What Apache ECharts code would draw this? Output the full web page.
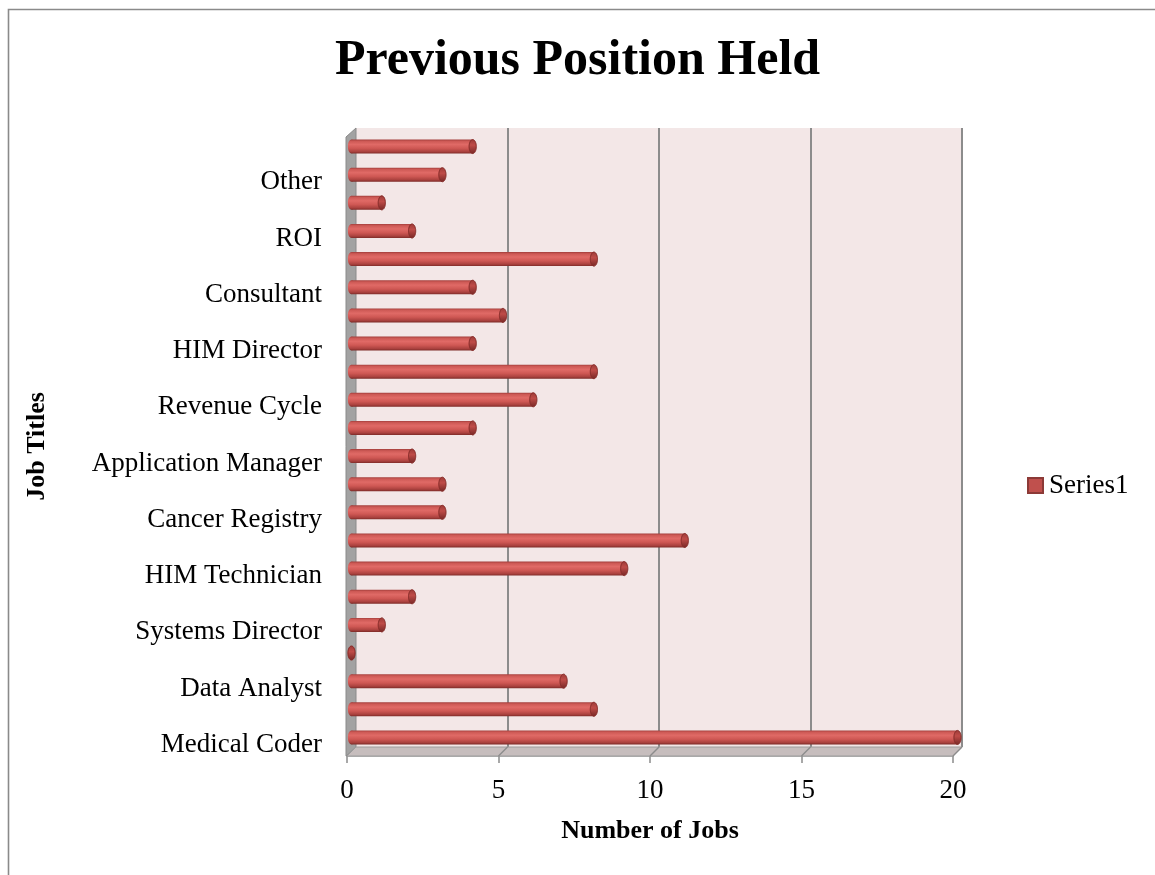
<!DOCTYPE html>
<html>
<head>
<meta charset="utf-8">
<title>Previous Position Held</title>
<script src="https://cdn.jsdelivr.net/npm/echarts@6/dist/echarts.min.js"></script>
<style>
  html, body { margin: 0; padding: 0; background: #ffffff; }
  #chart { width: 1155px; height: 875px; }
</style>
</head>
<body>
<div id="chart"></div>
<script>
// Job titles, bottom to top; every other category carries a visible label
const categories = [
  'Medical Coder', '', 'Data Analyst', '', 'Systems Director', '',
  'HIM Technician', '', 'Cancer Registry', '', 'Application Manager', '',
  'Revenue Cycle', '', 'HIM Director', '', 'Consultant', '',
  'ROI', '', 'Other', ''
];
// Number of jobs for each category (same order as above)
const jobCounts = [20, 8, 7, 0, 1, 2, 9, 11, 3, 3, 2, 4, 6, 8, 4, 5, 4, 8, 2, 1, 3, 4];
const seriesName = 'Series1';
const xTicks = { min: 0, max: 20, interval: 5 };

const W = 1155, H = 875;
const FONT = "'Liberation Serif', 'DejaVu Serif', serif";
// 3-D box: back wall edges and depth offset (front plane is shifted left/down)
const BACK = { l: 356, r: 962, t: 128, b: 747 };
const DEPTH = 9;
// grids: back wall, bar plane, front edge, category-label plane
const grids = [0, DEPTH / 2, DEPTH, DEPTH + 3].map(d => ({
  left: BACK.l - Math.min(d, DEPTH),
  right: W - (BACK.r - Math.min(d, DEPTH)),
  top: BACK.t + d,
  bottom: H - (BACK.b + d),
  containLabel: false
}));
grids[0].show = true;
grids[0].backgroundColor = '#f3e7e7';
grids[0].borderWidth = 0;

const bodyGrad = () => new echarts.graphic.LinearGradient(0, 0, 0, 1, [
  { offset: 0, color: '#a33e3b' },
  { offset: 0.12, color: '#cd5955' },
  { offset: 0.35, color: '#e06a66' },
  { offset: 0.62, color: '#cf5854' },
  { offset: 0.86, color: '#ab423f' },
  { offset: 1, color: '#7e2b28' }
]);
const capGrad = () => new echarts.graphic.LinearGradient(0, 0, 0, 1, [
  { offset: 0, color: '#9c3b38' },
  { offset: 0.4, color: '#bf4c48' },
  { offset: 1, color: '#772826' }
]);

function renderCylinder(params, api) {
  const v = api.value(0);
  const c = api.value(1);
  const p0 = api.coord([0, c]);
  const p1 = api.coord([v, c]);
  const h = 14, rx = 3.6;
  return {
    type: 'group',
    children: [
      { type: 'rect', shape: { x: p0[0], y: p0[1] - h / 2, width: Math.max(0, p1[0] - p0[0]), height: h },
        style: { fill: bodyGrad() } },
      { type: 'ellipse', shape: { cx: p0[0], cy: p0[1], rx: rx, ry: h / 2 },
        style: { fill: bodyGrad() } },
      { type: 'ellipse', shape: { cx: p1[0], cy: p1[1], rx: rx, ry: h / 2 },
        style: { fill: capGrad(), stroke: '#862d2a', lineWidth: 0.6 } }
    ]
  };
}

const hiddenValueAxis = (gi) => ({
  type: 'value', gridIndex: gi, min: xTicks.min, max: xTicks.max, interval: xTicks.interval,
  axisLine: { show: false }, axisTick: { show: false }, axisLabel: { show: false }, splitLine: { show: false }
});
const hiddenCatAxis = (gi) => ({
  type: 'category', gridIndex: gi, data: categories,
  axisLine: { show: false }, axisTick: { show: false }, axisLabel: { show: false }, splitLine: { show: false }
});

const chart = echarts.init(document.getElementById('chart'), null, { renderer: 'canvas' });

chart.setOption({
  backgroundColor: '#ffffff',
  animation: false,
  title: {
    text: 'Previous Position Held',
    left: 'center',
    top: 31,
    textStyle: { fontFamily: FONT, fontSize: 50, fontWeight: 'bold', color: '#000000' }
  },
  legend: {
    data: [seriesName],
    left: 1027,
    top: 472,
    padding: 0,
    icon: 'rect',
    itemWidth: 15,
    itemHeight: 15,
    itemGap: 6,
    textStyle: { fontFamily: FONT, fontSize: 27, color: '#000000', padding: [0, 0, 0, 1] }
  },
  grid: grids,
  xAxis: [
    // back wall: vertical gridlines
    Object.assign(hiddenValueAxis(0), {
      splitLine: { show: true, showMinLine: false, showMaxLine: true, lineStyle: { color: '#8c8c8c', width: 2 } }
    }),
    // bar plane
    hiddenValueAxis(1),
    // front edge: ticks, labels, axis name
    {
      type: 'value', gridIndex: 2, min: xTicks.min, max: xTicks.max, interval: xTicks.interval,
      name: 'Number of Jobs', nameLocation: 'middle', nameGap: 62,
      nameTextStyle: { fontFamily: FONT, fontSize: 26, fontWeight: 'bold', color: '#000000' },
      axisLine: { show: true, lineStyle: { color: '#a0a0a0', width: 1.5 } },
      axisTick: { show: true, length: 7, lineStyle: { color: '#8c8c8c', width: 1.5 } },
      axisLabel: { margin: 21, fontFamily: FONT, fontSize: 27, color: '#000000' },
      splitLine: { show: false }
    },
    hiddenValueAxis(3)
  ],
  yAxis: [
    hiddenCatAxis(0),
    hiddenCatAxis(1),
    Object.assign(hiddenCatAxis(2), {
      name: 'Job Titles', nameLocation: 'middle', nameGap: 297, nameRotate: 90,
      nameTextStyle: { fontFamily: FONT, fontSize: 26, fontWeight: 'bold', color: '#000000' }
    }),
    Object.assign(hiddenCatAxis(3), {
      axisLabel: { show: true, interval: 0, margin: 25, fontFamily: FONT, fontSize: 27, color: '#000000' }
    })
  ],
  series: [{
    name: seriesName,
    type: 'custom',
    xAxisIndex: 1,
    yAxisIndex: 1,
    renderItem: renderCylinder,
    itemStyle: { color: '#c0504d', borderColor: '#8c3a37', borderWidth: 1 },
    encode: { x: 0, y: 1 },
    data: jobCounts.map((v, i) => [v, i]),
    z: 5
  }]
});

// Left wall, floor and the gridline traces on the floor, placed from the axis scale
const front = { l: BACK.l - DEPTH, r: BACK.r - DEPTH, b: BACK.b + DEPTH };
const graphics = [
  { type: 'rect', z: 100, silent: true,
    shape: { x: 8.5, y: 9.5, width: W + 20, height: H + 20 },
    style: { fill: 'none', stroke: '#8a8a8a', lineWidth: 1.6 } },
  { type: 'polygon', z: 1, silent: true,
    shape: { points: [[BACK.l, BACK.t], [BACK.l, BACK.b], [front.l - 1, front.b], [front.l - 1, BACK.t + DEPTH]] },
    style: { fill: '#a2a2a2', stroke: '#8a8a8a', lineWidth: 1 } },
  { type: 'polygon', z: 1, silent: true,
    shape: { points: [[BACK.l, BACK.b], [BACK.r, BACK.b], [front.r, front.b], [front.l, front.b]] },
    style: { fill: '#c6bdbd', stroke: '#9c9c9c', lineWidth: 1 } }
];
for (let v = xTicks.min + xTicks.interval; v <= xTicks.max; v += xTicks.interval) {
  const xb = chart.convertToPixel({ xAxisIndex: 0 }, v);
  graphics.push({ type: 'line', z: 2, silent: true,
    shape: { x1: xb, y1: BACK.b, x2: xb - DEPTH, y2: front.b },
    style: { stroke: '#8c8c8c', lineWidth: 1.5 } });
}
chart.setOption({ graphic: graphics });
</script>
</body>
</html>
